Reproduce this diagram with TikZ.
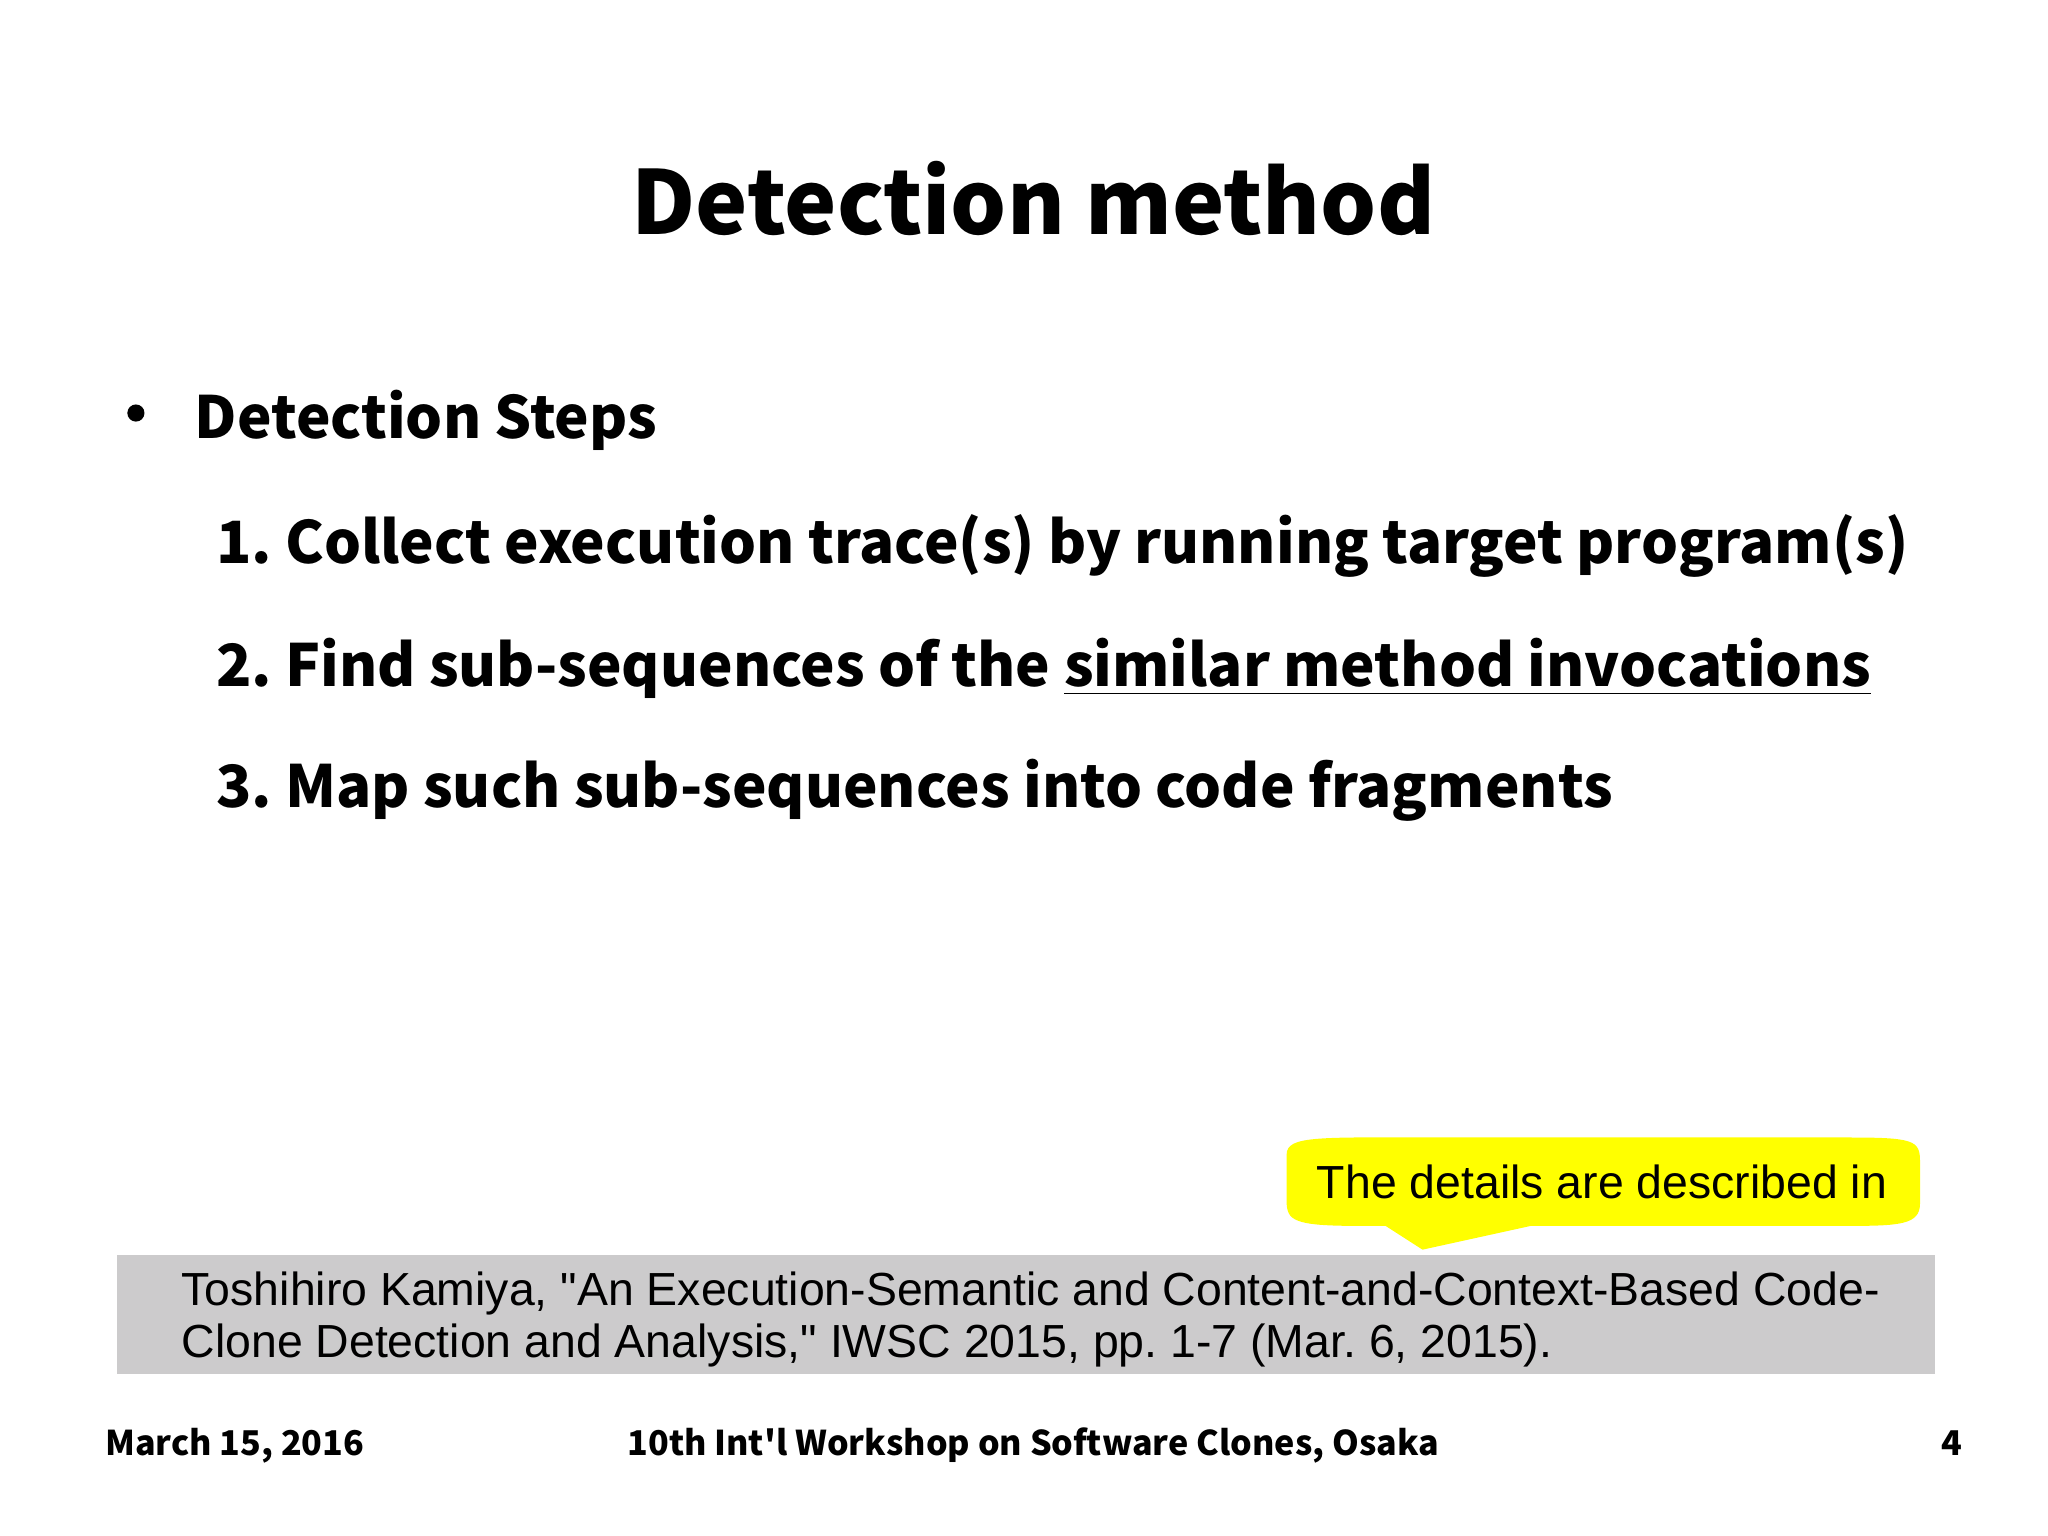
\documentclass[tikz,border=0pt]{standalone}
\usepackage{fontspec}
\setmainfont{Noto Sans CJK JP}
\newfontfamily\arialf{Liberation Sans}
\definecolor{callout}{HTML}{FFFF00}
\definecolor{citegray}{HTML}{CCCBCC}
\frenchspacing
\begin{document}
\begin{tikzpicture}[x=0.01cm,y=-0.01cm,
  txt/.style={inner sep=0pt,anchor=base west},
  title/.style={inner sep=0pt,anchor=base,font=\bfseries\fontsize{19}{23}\selectfont},
  body/.style={txt,font=\bfseries\fontsize{12.55}{15}\selectfont},
  foot/.style={inner sep=0pt,anchor=base,font=\bfseries\fontsize{7.35}{9}\selectfont},
  cite/.style={txt,font=\arialf\fontsize{10}{12}\selectfont}]
\useasboundingbox (0,0) rectangle (1552,1164);
\fill[white] (0,0) rectangle (1552,1164);
\node[title] (t) at (783,178) {Detection method};
\fill (103,313) circle (6.5);
\node[body] (s) at (147,332) {Detection Steps};
\node[body] (i1) at (163,427) {1. Collect execution trace(s) by running target program(s)};
\node[body] (i2) at (163,520) {2. Find sub-sequences of the \underline{similar method invocations}};
\node[body] (i3) at (163,612) {3. Map such sub-sequences into code fragments};
\fill[callout] (975,875) .. controls (975,860) and (1000,862) .. (1100,862)
  -- (1400,862) .. controls (1450,862) and (1455,864) .. (1455,880)
  -- (1455,912) .. controls (1455,928) and (1440,929) .. (1400,929)
  -- (1160,929) -- (1078,947) -- (1050,929) -- (1030,929)
  .. controls (980,929) and (975,925) .. (975,910) -- cycle;
\node[inner sep=0pt,anchor=base,font=\arialf\fontsize{10}{12}\selectfont] (c) at (1214,908) {The details are described in};
\fill[citegray] (89,951) rectangle (1466,1041);
\node[cite] (r1) at (137,989) {Toshihiro Kamiya, "An Execution-Semantic and Content-and-Context-Based Code-};
\node[cite] (r2) at (137,1029) {Clone Detection and Analysis," IWSC 2015, pp. 1-7 (Mar. 6, 2015).};
\node[foot,anchor=base west] (f1) at (79,1103) {March 15, 2016};
\node[foot] (f2) at (783,1103) {10th Int\textquotesingle l Workshop on Software Clones, Osaka};
\node[foot,anchor=base east] (f3) at (1488,1103) {4};
\end{tikzpicture}
\end{document}
